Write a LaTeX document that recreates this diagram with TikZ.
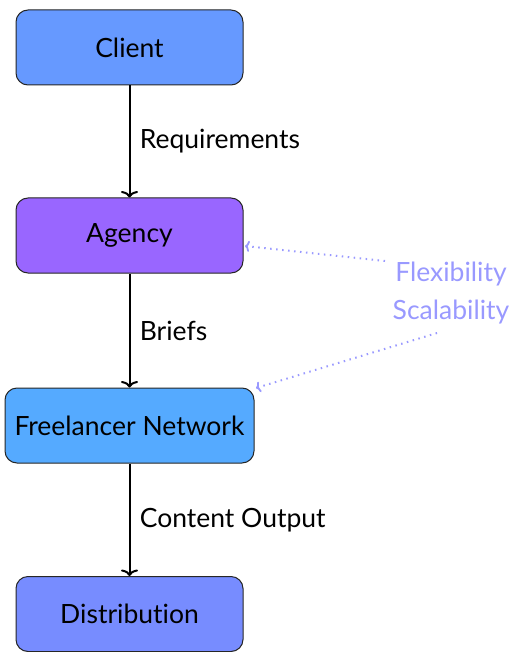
\documentclass[tikz,border=0pt]{standalone}
\usepackage{fontspec}
\setmainfont{Lato}[Ligatures=NoCommon]
\usetikzlibrary{arrows.meta}
\definecolor{cClient}{RGB}{102,153,255}
\definecolor{cAgency}{RGB}{153,102,255}
\definecolor{cFree}{RGB}{85,170,255}
\definecolor{cDist}{RGB}{119,140,255}
\definecolor{cNote}{RGB}{153,153,255}
\begin{document}
\begin{tikzpicture}[x=1pt,y=-1pt,
  box/.style={draw=black!85,line width=1pt,rounded corners=12pt,minimum height=75pt,align=center,font=\fontsize{26.5}{30}\selectfont,inner sep=0pt},
  flow/.style={draw=black,line width=2pt,-{To[length=6.5pt,width=17pt,line width=2pt]}},
  lbl/.style={font=\fontsize{26.5}{30}\selectfont,anchor=west},
  note/.style={draw=cNote,line width=2pt,dash pattern=on 1.5pt off 4.5pt,-{To[length=4.5pt,width=11pt,line width=1.8pt,sep=0pt]}}]
\useasboundingbox (0,0) rectangle (511,652);
\node[box,fill=cClient,minimum width=227pt] (client) at (129.5,47.5) {Client};
\node[box,fill=cAgency,minimum width=227pt] (agency) at (129.5,235.5) {Agency};
\node[box,fill=cFree,minimum width=249pt] (free) at (129.5,425.5) {Freelancer Network};
\node[box,fill=cDist,minimum width=227pt] (dist) at (129.5,614) {Distribution};
\draw[flow] (client) -- node[lbl,right=6pt] (l1) {Requirements} (agency);
\draw[flow] (agency) -- node[lbl,right=6pt] (l2) {Briefs} (free);
\draw[flow] (free) -- node[lbl,right=6pt] (l3) {Content Output} (dist);
\node[font=\fontsize{26.5}{38}\selectfont,text=cNote,align=center] (note) at (451,293) {Flexibility\\Scalability};
\coordinate (n1) at (385,261);
\coordinate (n2) at (437,333);
\coordinate (t1) at (245,246);
\coordinate (t2) at (256,388);
\draw[note] (n1) -- (t1);
\draw[note] (n2) -- (t2);
\end{tikzpicture}
\end{document}
